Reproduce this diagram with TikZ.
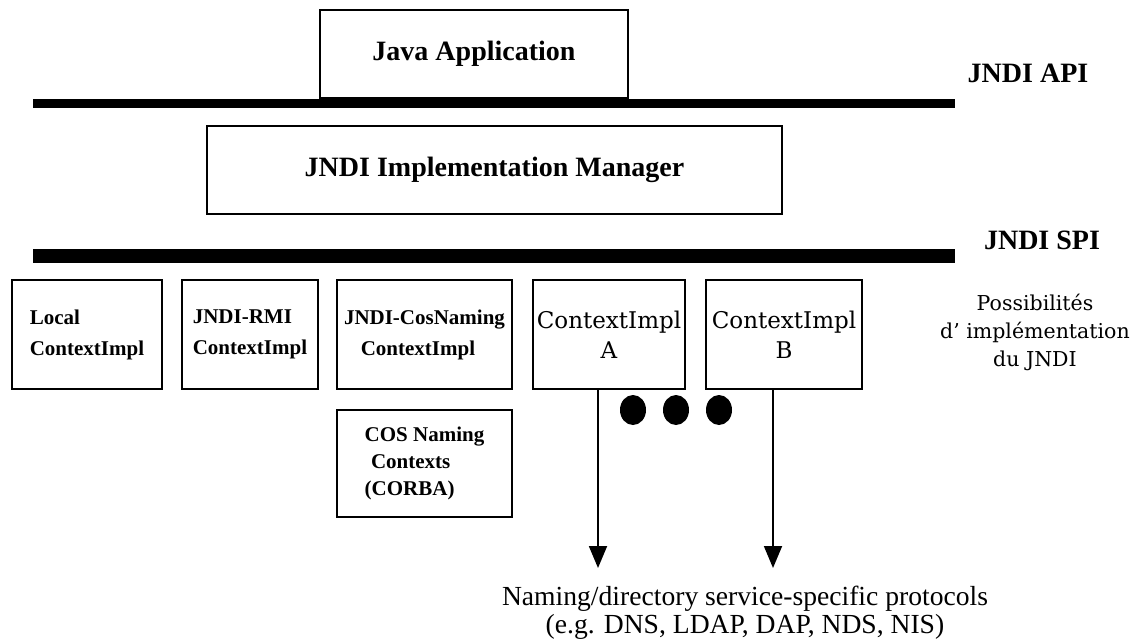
\documentclass[tikz,border=0pt]{standalone}
\usepackage{fontspec}
\setmainfont{Liberation Serif}
\newfontfamily\widefont{DejaVu Serif}
\usetikzlibrary{arrows.meta,shapes.geometric}
\tikzset{
  px/.style={x=1pt,y=-1pt},
  box/.style={draw=black,line width=2.2pt,fill=white,inner sep=0pt,align=center},
  bar/.style={fill=black,draw=none,inner sep=0pt},
  boldlbl/.style={font=\fontsize{21}{31}\selectfont\bfseries,align=left},
  ctxlbl/.style={font=\widefont\fontsize{23}{30}\selectfont,align=center},
  biglbl/.style={font=\fontsize{28}{30}\selectfont\bfseries},
  sidelbl/.style={font=\fontsize{28}{30}\selectfont\bfseries},
  posslbl/.style={font=\widefont\fontsize{20.5}{28}\selectfont,align=center},
  notelbl/.style={font=\fontsize{27.6}{28}\selectfont,align=center},
  arr/.style={line width=1.8pt,-{Triangle[length=22pt,width=18pt]}},
  blob/.style={ellipse,fill=black,draw=none,minimum width=26pt,minimum height=30pt,inner sep=0pt}
}
\begin{document}
\begin{tikzpicture}[px]
\useasboundingbox (0,0) rectangle (1140,638);
% bars
\node[bar,minimum width=922pt,minimum height=9pt] (apibar) at (494,103) {};
\node[bar,minimum width=922pt,minimum height=14pt] (spibar) at (494,256) {};
% top boxes
\node[box,minimum width=308pt,minimum height=88pt,biglbl] (java) at (474,54) {Java Application};
\node[box,minimum width=575pt,minimum height=88pt,biglbl] (mgr) at (494.5,170) {JNDI Implementation Manager};
\node[sidelbl] (api) at (1028,73) {JNDI API};
\node[sidelbl] (spi) at (1042,240) {JNDI SPI};
% implementation boxes
\node[box,minimum width=150pt,minimum height=109pt,boldlbl] (local) at (87,334.5) {Local\\ContextImpl};
\node[box,minimum width=136pt,minimum height=109pt,boldlbl] (rmi) at (250,334.5) {JNDI-RMI\\ContextImpl};
\node[box,minimum width=175pt,minimum height=109pt,boldlbl] (cos) at (424.5,334.5) {JNDI-CosNaming\\\hspace*{0.8em}ContextImpl};
\node[box,minimum width=152pt,minimum height=109pt,ctxlbl] (ctxa) at (609,334.5) {ContextImpl\\A};
\node[box,minimum width=156pt,minimum height=109pt,ctxlbl] (ctxb) at (784,334.5) {ContextImpl\\B};
\node[box,minimum width=175pt,minimum height=107pt,boldlbl,font=\fontsize{21}{27}\selectfont\bfseries] (corba) at (424.5,463.5) {COS Naming\\\hspace*{0.3em}Contexts\\(CORBA)};
\node[posslbl] (poss) at (1035,332) {Possibilités\\d’ implémentation\\du JNDI};
% dots
\node[blob] (d1) at (633,410) {};
\node[blob] (d2) at (676,410) {};
\node[blob] (d3) at (719,410) {};
% protocols
\node[notelbl] (proto) at (745,613) {Naming/directory service-specific protocols\\(e.g. DNS, LDAP, DAP, NDS, NIS)};
\coordinate (aend) at (598,568);
\coordinate (bend) at (773,568);
\draw[arr] (ctxa.south -| aend) -- (aend);
\draw[arr] (ctxb.south -| bend) -- (bend);
\end{tikzpicture}
\end{document}
